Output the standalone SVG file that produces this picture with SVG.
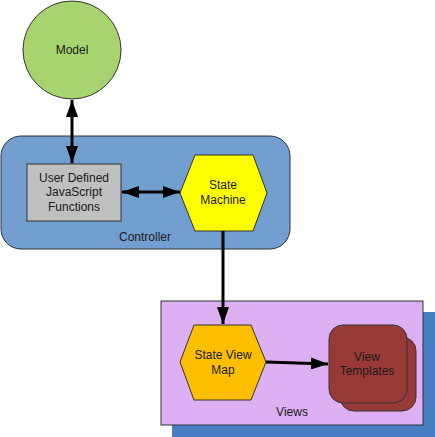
<svg xmlns="http://www.w3.org/2000/svg" width="435" height="437" viewBox="0 0 435 437">
<defs>
<style>
text{font-family:"Liberation Sans",Arial,sans-serif;font-size:12px;fill:#1a1a1a;text-anchor:middle}
.shape{stroke:#333;stroke-width:1}
.conn{stroke:#000;stroke-width:3;fill:none}
</style>
<marker id="ah" viewBox="0 0 17 12" refX="17" refY="6" markerWidth="17" markerHeight="12" markerUnits="userSpaceOnUse" orient="auto-start-reverse">
<path d="M0,0 L17,6 L0,12 Z" fill="#000"/>
</marker>
</defs>
<g id="controller">
<rect class="shape" x="1" y="136" width="289" height="113" rx="20" fill="#729fcf"/>
<text x="145" y="241">Controller</text>
</g>
<g id="views">
<rect x="172" y="312" width="263" height="125" fill="#4a7ec4"/>
<rect class="shape" x="161" y="301" width="262" height="124" fill="#dcb0f2"/>
<text x="292" y="416">Views</text>
</g>
<g id="model">
<circle class="shape" cx="72" cy="50" r="49" fill="#a8d46f"/>
<text x="72" y="54">Model</text>
</g>
<g id="udjf">
<rect class="shape" x="27" y="164" width="94" height="57" fill="#c0c0c0"/>
<text x="74" y="182">User Defined</text>
<text x="74" y="196">JavaScript</text>
<text x="74" y="211">Functions</text>
</g>
<g id="state-machine">
<polygon class="shape" points="180,193 195,155 253,155 267,193 253,231 195,231" fill="#ffff00"/>
<text x="223" y="189">State</text>
<text x="223" y="204">Machine</text>
</g>
<g id="state-view-map">
<polygon class="shape" points="180,362 194,325 251,325 266,362 251,400 194,400" fill="#ffbf00"/>
<text x="223" y="359">State View</text>
<text x="223" y="374">Map</text>
</g>
<g id="view-templates">
<rect class="shape" x="340" y="337" width="76" height="74" rx="14" fill="#9a3a38"/>
<rect class="shape" x="329" y="325" width="78" height="78" rx="14" fill="#9a3a38"/>
<text x="367" y="361">View</text>
<text x="367" y="375">Templates</text>
</g>
<g id="connectors">
<line class="conn" x1="72" y1="100" x2="72" y2="163" marker-start="url(#ah)" marker-end="url(#ah)"/>
<line class="conn" x1="122" y1="192" x2="180" y2="192" marker-start="url(#ah)" marker-end="url(#ah)"/>
<line class="conn" x1="223" y1="231" x2="223" y2="324" marker-end="url(#ah)"/>
<line class="conn" x1="266" y1="362" x2="328" y2="364" marker-end="url(#ah)"/>
</g>
</svg>
